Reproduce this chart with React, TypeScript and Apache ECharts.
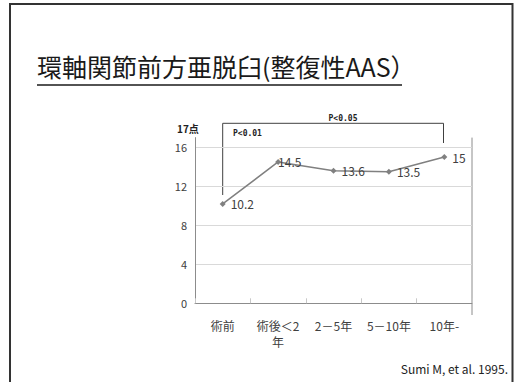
import React, { useEffect, useRef } from "react";
import * as echarts from "echarts";

const categories = ["術前", "術後＜2\n年", "2－5年", "5－10年", "10年-"];
const scores = [10.2, 14.5, 13.6, 13.5, 15];
const labelShift = [0, -8, 0, 0, 0];
const yMin = 0;
const yMax = 17;
const yStep = 4;
const titleText = "環軸関節前方亜脱臼(整復性AAS）";
const unitText = "17点";
const pLong = "P<0.05";
const pShort = "P<0.01";
const citation = "Sumi M, et al. 1995.";

const JP = '"Noto Sans CJK JP", "Noto Sans", sans-serif';

export default function App() {
  const ref = useRef<HTMLDivElement>(null);
  useEffect(() => {
    if (!ref.current) return;
    const chart = echarts.init(ref.current, null, { renderer: "svg" });
    chart.setOption({
      animation: false,
      backgroundColor: "#ffffff",
      grid: { left: 195, right: 44, top: 137.6, bottom: 78.7 },
      xAxis: {
        type: "category",
        data: categories,
        boundaryGap: true,
        axisLine: { lineStyle: { color: "#8c8c8c", width: 1 } },
        axisTick: { show: true, inside: true, length: 5, lineStyle: { color: "#c8c8c8" } },
        axisLabel: { fontSize: 12, color: "#404040", margin: 14, lineHeight: 16, fontFamily: JP, interval: 0 },
      },
      yAxis: {
        type: "value",
        min: yMin,
        max: yMax,
        interval: yStep,
        axisLine: { show: true, lineStyle: { color: "#8c8c8c", width: 1 } },
        axisTick: { show: false },
        axisLabel: { fontSize: 11, color: "#404040", margin: 8, fontFamily: JP, showMaxLabel: false },
        splitLine: {
          lineStyle: {
            color: ["#d9d9d9", "#d9d9d9", "#d9d9d9", "#d9d9d9", "#d9d9d9", "rgba(0,0,0,0)"],
            width: 1,
          },
        },
      },
      series: [
        {
          type: "line",
          data: scores.map((v, i) => ({
            value: v,
            label: { offset: [labelShift[i], 0] },
          })),
          symbol: "diamond",
          symbolSize: 6,
          lineStyle: { color: "#808080", width: 1.5 },
          itemStyle: { color: "#808080" },
          label: {
            show: true,
            position: "right",
            distance: 5,
            fontSize: 12,
            color: "#404040",
            fontFamily: JP,
          },
        },
      ],
      graphic: [
        {
          type: "rect",
          shape: { x: 10, y: 4, width: 502.5, height: 420 },
          style: { fill: "none", stroke: "#333333", lineWidth: 2 },
          silent: true,
        },
        {
          type: "text",
          x: 37,
          y: 53,
          style: { text: titleText, fontSize: 25, fill: "#1a1a1a", fontFamily: JP },
        },
        {
          type: "line",
          shape: { x1: 37, y1: 85, x2: 402, y2: 85 },
          style: { stroke: "#1a1a1a", lineWidth: 1.5 },
        },
        {
          type: "text",
          x: 177,
          y: 123,
          style: { text: unitText, fontSize: 10, fontWeight: "bold", fill: "#222", fontFamily: JP },
        },
        {
          type: "polyline",
          shape: { points: [[222.7, 195], [222.7, 123.3], [443.5, 123.3], [443.5, 143]] },
          style: { stroke: "#404040", lineWidth: 1, fill: "none" },
        },
        {
          type: "text",
          x: 343,
          y: 118,
          style: {
            text: pLong,
            fontSize: 8,
            fontWeight: "bold",
            fill: "#222",
            fontFamily: '"DejaVu Sans Mono", monospace',
            align: "center",
            verticalAlign: "middle",
          },
        },
        {
          type: "text",
          x: 233,
          y: 133,
          style: {
            text: pShort,
            fontSize: 8,
            fontWeight: "bold",
            fill: "#222",
            fontFamily: '"DejaVu Sans Mono", monospace',
            verticalAlign: "middle",
          },
        },
        {
          type: "line",
          shape: { x1: 472, y1: 137.6, x2: 472, y2: 315 },
          style: { stroke: "#8c8c8c", lineWidth: 1 },
        },
        {
          type: "text",
          x: 508,
          y: 368,
          style: {
            text: citation,
            fontSize: 12,
            fill: "#222",
            fontFamily: JP,
            align: "right",
            verticalAlign: "middle",
          },
        },
      ],
    });
    return () => chart.dispose();
  }, []);
  return (
    <div
      ref={ref}
      style={{ position: "fixed", left: 0, top: 0, width: 516, height: 382 }}
    />
  );
}
